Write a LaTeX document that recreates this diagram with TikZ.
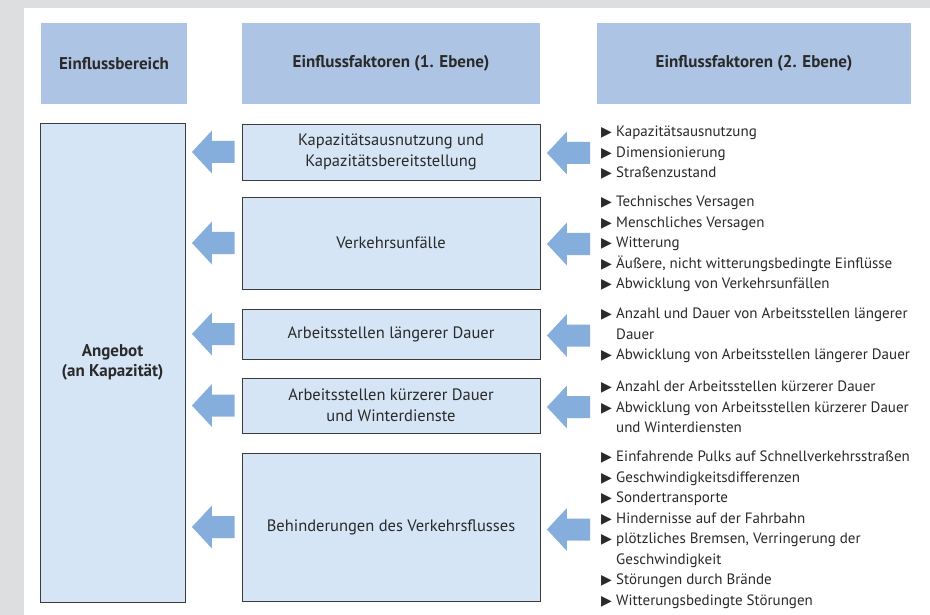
\documentclass[tikz,border=0pt]{standalone}
\usepackage{fontspec}
\setmainfont{PT Sans}
\newfontfamily\symfont{DejaVu Sans}
\usetikzlibrary{calc}
\definecolor{bggray}{HTML}{DDDEE0}
\definecolor{headblue}{HTML}{AEC4E4}
\definecolor{boxblue}{HTML}{D5E5F5}
\definecolor{arrowc}{HTML}{86AEDC}
\definecolor{edgec}{HTML}{3C3C3C}
\definecolor{textc}{HTML}{2A2A2A}
\newcommand\itm{\makebox[15pt][l]{\symfont\fontsize{14}{14}\selectfont ▶}}
\newcommand\ind{\hspace*{15pt}}
\newcommand\fatarrow[3]{% #1 tip x-node (east), #2 end node (west), #3 gap at end
  \fill[arrowc] let \p1=(#2.west), \p2=(#1.east) in
  (\x2+6.5,\y1) -- (\x2+26.5,\y1+21.5) -- (\x2+26.5,\y1+11) -- (\x1-#3,\y1+11)
  -- (\x1-#3,\y1-11) -- (\x2+26.5,\y1-11) -- (\x2+26.5,\y1-21.5) -- cycle;}
\begin{document}
\begin{tikzpicture}[x=1pt,y=-1pt,
  every node/.style={text=textc},
  headbox/.style={fill=headblue, inner sep=0, align=center, font=\bfseries\fontsize{17}{21}\selectfont},
  fbox/.style={fill=boxblue, draw=edgec, line width=0.9pt, inner sep=0, align=center, font=\fontsize{16.5}{21}\selectfont},
  listnode/.style={anchor=west, inner sep=0, align=left, font=\fontsize{15}{20.5}\selectfont}]
\fill[bggray] (0,0) rectangle (930,615);
\fill[white] (24,8) rectangle (930,615);
% headers
\node[headbox, minimum width=146, minimum height=81] (h1) at (114,63.5) {Einflussbereich};
\node[headbox, minimum width=298, minimum height=81] (h2) at (391,63.5) {Einflussfaktoren (1. Ebene)};
\node[headbox, minimum width=314, minimum height=81] (h3) at (754,63.5) {Einflussfaktoren (2. Ebene)};
% left box
\node[fbox, minimum width=145, minimum height=479, font=\bfseries\fontsize{17}{20}\selectfont] (ang) at (112.5,362.5) {Angebot\\(an Kapazität)};
% middle boxes
\node[fbox, minimum width=298, minimum height=56] (b1) at (391,152) {Kapazitätsausnutzung und\\Kapazitätsbereitstellung};
\node[fbox, minimum width=298, minimum height=92] (b2) at (391,243) {Verkehrsunfälle};
\node[fbox, minimum width=298, minimum height=50] (b3) at (391,334) {Arbeitsstellen längerer Dauer};
\node[fbox, minimum width=298, minimum height=55] (b4) at (391,405.5) {Arbeitsstellen kürzerer Dauer\\und Winterdienste};
\node[fbox, minimum width=298, minimum height=148] (b5) at (391,527) {Behinderungen des Verkehrsflusses};
% lists
\node[listnode] (l1) at (601,153) {\itm Kapazitätsausnutzung\\\itm Dimensionierung\\\itm Straßenzustand};
\node[listnode] (l2) at (601,244) {\itm Technisches Versagen\\\itm Menschliches Versagen\\\itm Witterung\\\itm Äußere, nicht witterungsbedingte Einflüsse\\\itm Abwicklung von Verkehrsunfällen};
\node[listnode] (l3) at (601,335.5) {\itm Anzahl und Dauer von Arbeitsstellen längerer\\\ind Dauer\\\itm Abwicklung von Arbeitsstellen längerer Dauer};
\node[listnode] (l4) at (601,407) {\itm Anzahl der Arbeitsstellen kürzerer Dauer\\\itm Abwicklung von Arbeitsstellen kürzerer Dauer\\\ind und Winterdiensten};
\node[listnode] (l5) at (601,529.5) {\itm Einfahrende Pulks auf Schnellverkehrsstraßen\\\itm Geschwindigkeitsdifferenzen\\\itm Sondertransporte\\\itm Hindernisse auf der Fahrbahn\\\itm plötzliches Bremsen, Verringerung der\\\ind Geschwindigkeit\\\itm Störungen durch Brände\\\itm Witterungsbedingte Störungen};
% arrows middle -> left
\fatarrow{ang}{b1}{7}
\fatarrow{ang}{b2}{7}
\fatarrow{ang}{b3}{7}
\fatarrow{ang}{b4}{7}
\fatarrow{ang}{b5}{7}
% arrows right -> middle
\fatarrow{b1}{l1}{11}
\fatarrow{b2}{l2}{11}
\fatarrow{b3}{l3}{11}
\fatarrow{b4}{l4}{11}
\fatarrow{b5}{l5}{11}
\end{tikzpicture}
\end{document}
